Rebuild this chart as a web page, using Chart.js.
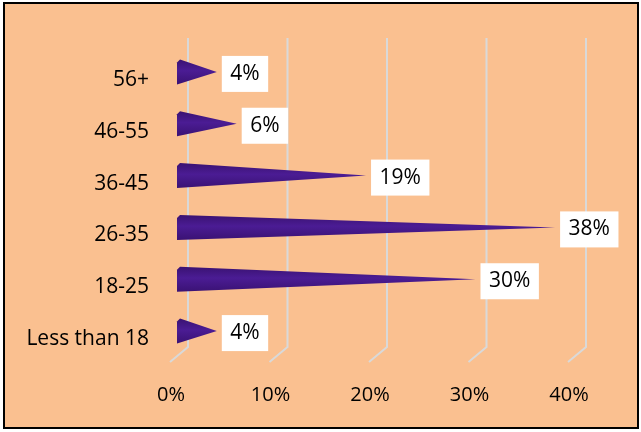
<!DOCTYPE html>
<html>
<head>
<meta charset="utf-8">
<script src="https://cdn.jsdelivr.net/npm/chart.js@4.4.0/dist/chart.umd.min.js"></script>
<style>
  html, body { margin: 0; padding: 0; background: #fff; }
</style>
</head>
<body>
<canvas id="ages" width="641" height="432"></canvas>
<script>
const ageGroups = ['56+', '46-55', '36-45', '26-35', '18-25', 'Less than 18'];
const sharePct = [4, 6, 19, 38, 30, 4];
const xTicks = [0, 10, 20, 30, 40];

// Frame + peach background
const framePlugin = {
  id: 'frame',
  beforeDraw: function (chart) {
    const ctx = chart.ctx;
    ctx.save();
    ctx.fillStyle = '#fff';
    ctx.fillRect(0, 0, chart.width, chart.height);
    ctx.fillStyle = '#FAC090';
    ctx.fillRect(4, 3, 634, 425);
    ctx.strokeStyle = '#000';
    ctx.lineWidth = 2;
    ctx.strokeRect(4, 3, 634, 425);
    ctx.restore();
  }
};

// 3D style gridlines (back wall + floor)
const wallGrid = {
  id: 'wallGrid',
  beforeDatasetsDraw: function (chart) {
    const ctx = chart.ctx, xs = chart.scales.x, area = chart.chartArea;
    ctx.save();
    ctx.strokeStyle = '#D9D9D9';
    ctx.lineWidth = 2;
    xTicks.forEach(function (v) {
      const px = xs.getPixelForValue(v);
      ctx.beginPath();
      ctx.moveTo(px + 11, area.top - 8);
      ctx.lineTo(px + 11, area.bottom - 10);
      ctx.lineTo(px - 7, area.bottom + 5);
      ctx.stroke();
    });
    ctx.restore();
  }
};

// Cone bars + white value boxes
const coneBars = {
  id: 'coneBars',
  afterDatasetsDraw: function (chart) {
    const ctx = chart.ctx;
    const meta = chart.getDatasetMeta(0);
    ctx.save();
    meta.data.forEach(function (bar, i) {
      const h = bar.height, top = bar.y - h / 2, bot = bar.y + h / 2;
      const grad = ctx.createLinearGradient(0, top, 0, bot);
      grad.addColorStop(0, '#3a1272');
      grad.addColorStop(0.45, '#4b1c94');
      grad.addColorStop(1, '#3a1274');
      ctx.fillStyle = grad;
      ctx.beginPath();
      ctx.moveTo(bar.base, bot);
      ctx.lineTo(bar.base, top + 3);
      ctx.lineTo(bar.base + 3, top);
      ctx.lineTo(bar.x, bar.y);
      ctx.closePath();
      ctx.fill();

      const txt = sharePct[i] + '%';
      ctx.font = '21px "Open Sans"';
      const w = ctx.measureText(txt).width + 17;
      const bx = bar.x + 5, by = bar.y - 16;
      ctx.fillStyle = '#fff';
      ctx.fillRect(bx, by, w, 36);
      ctx.fillStyle = '#000';
      ctx.textAlign = 'center';
      ctx.textBaseline = 'middle';
      ctx.fillText(txt, bx + w / 2, by + 18);
    });
    ctx.restore();
  }
};

Chart.defaults.font.family = '"Open Sans"';
Chart.defaults.font.size = 21;
Chart.defaults.color = '#000';

new Chart(document.getElementById('ages'), {
  type: 'bar',
  data: {
    labels: ageGroups,
    datasets: [{
      data: sharePct,
      backgroundColor: 'rgba(0,0,0,0)',
      borderWidth: 0,
      barThickness: 25
    }]
  },
  options: {
    indexAxis: 'y',
    responsive: false,
    animation: false,
    layout: { padding: { left: 0, top: 46, right: 66, bottom: 10 } },
    plugins: { legend: { display: false }, tooltip: { enabled: false } },
    scales: {
      x: {
        min: 0,
        max: 40,
        afterBuildTicks: function (scale) {
          scale.ticks = xTicks.map(function (v) { return { value: v }; });
        },
        afterFit: function (scale) { scale.height = 65; },
        grid: { display: false },
        border: { display: false },
        ticks: {
          padding: 18,
          labelOffset: -6,
          maxRotation: 0,
          font: { size: 20 },
          callback: function (v) { return v + '%'; }
        }
      },
      y: {
        afterFit: function (scale) { scale.width = 177; },
        grid: { display: false },
        border: { display: false },
        ticks: { padding: 20, labelOffset: 8 }
      }
    }
  },
  plugins: [framePlugin, wallGrid, coneBars]
});
</script>
</body>
</html>
